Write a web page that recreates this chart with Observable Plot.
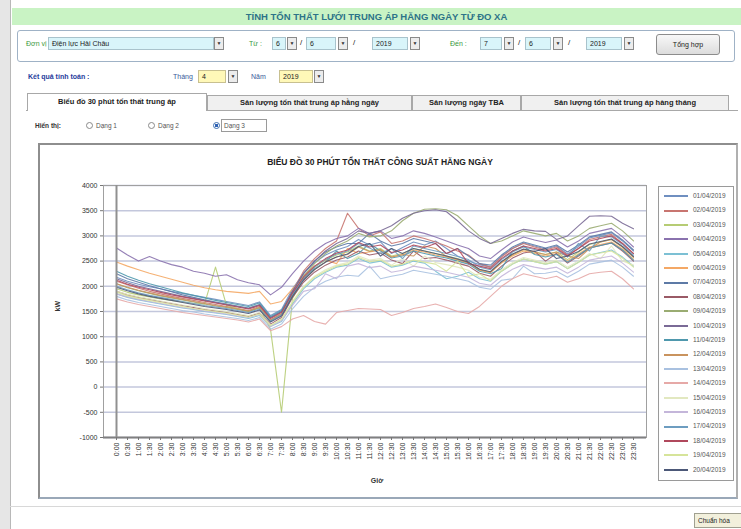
<!DOCTYPE html>
<html><head><meta charset="utf-8">
<script src="https://cdn.jsdelivr.net/npm/d3@7"></script>
<script src="https://cdn.jsdelivr.net/npm/@observablehq/plot@0.6"></script>
<style>
html,body{margin:0;padding:0;}
body{width:741px;height:529px;position:relative;overflow:hidden;background:#fff;font-family:"Liberation Sans",Arial,sans-serif;color:#222;}
.a{position:absolute;white-space:nowrap;}
.g{font-size:7px;color:#3c9a3c;}
.fld{position:absolute;background:#d9f5fa;border:1px solid #a9c3cc;height:13px;font-size:7px;line-height:11px;padding-left:3px;box-sizing:border-box;}
.yel{background:#fff8b8;border-color:#c8c090;}
.arr{position:absolute;background:#ececec;border:1px solid #8a8a8a;width:10px;height:13px;box-sizing:border-box;font-size:5px;line-height:11px;text-align:center;color:#333;}
.tab{position:absolute;top:95px;height:15px;box-sizing:border-box;border:1px solid #a8a8a8;border-bottom:none;background:#f0f0f0;font-size:7.5px;font-weight:bold;line-height:14px;text-align:center;color:#222;}
.rad{position:absolute;top:122px;width:7px;height:7px;border:1px solid #8a8a8a;border-radius:50%;box-sizing:border-box;background:#fff;}
.leg{position:absolute;left:658px;top:186px;width:76px;height:295px;border:1px solid #9a9a9a;box-sizing:border-box;background:#fff;}
.li{position:absolute;left:5px;height:10px;font-size:6.5px;color:#555;}
.li span{display:inline-block;width:24px;height:2px;vertical-align:middle;margin-right:5px;}
</style></head>
<body>
<div class="a" style="left:0;top:0;width:10px;height:529px;background:#e6e6e6;border-right:1px solid #b8b8b8;"></div>
<div class="a" style="left:12px;top:8px;width:729px;height:17px;background:#c9f3c4;text-align:center;font-size:9.5px;font-weight:bold;line-height:17px;color:#2d7488;">TÍNH TỔN THẤT LƯỚI TRUNG ÁP HẰNG NGÀY TỪ ĐO XA</div>
<div class="a" style="left:17px;top:30px;width:718px;height:32px;border:1px solid #9fb2c6;border-radius:3px;box-sizing:border-box;"></div>
<div class="a g" style="left:26px;top:40px;">Đơn vị :</div>
<div class="fld" style="left:48px;top:37px;width:166px;">Điện lực Hải Châu</div><div class="arr" style="left:214px;top:37px;">▼</div>
<div class="a g" style="left:249px;top:40px;">Từ :</div>
<div class="fld" style="left:272px;top:37px;width:14px;">6</div><div class="arr" style="left:287px;top:37px;">▼</div><div class="a" style="left:300px;top:38px;font-size:8px;">/</div>
<div class="fld" style="left:306px;top:37px;width:30px;">6</div><div class="arr" style="left:338px;top:37px;">▼</div><div class="a" style="left:353px;top:38px;font-size:8px;">/</div>
<div class="fld" style="left:372px;top:37px;width:36px;">2019</div><div class="arr" style="left:410px;top:37px;">▼</div>
<div class="a g" style="left:450px;top:40px;">Đến :</div>
<div class="fld" style="left:480px;top:37px;width:22px;">7</div><div class="arr" style="left:504px;top:37px;">▼</div><div class="a" style="left:518px;top:38px;font-size:8px;">/</div>
<div class="fld" style="left:525px;top:37px;width:26px;">6</div><div class="arr" style="left:553px;top:37px;">▼</div><div class="a" style="left:568px;top:38px;font-size:8px;">/</div>
<div class="fld" style="left:586px;top:37px;width:36px;">2019</div><div class="arr" style="left:624px;top:37px;">▼</div>
<div class="a" style="left:656px;top:34px;width:64px;height:21px;border:1px solid #8c8c8c;border-radius:3px;box-sizing:border-box;background:linear-gradient(#f8f8f8,#dcdcdc);font-size:7px;text-align:center;line-height:19px;">Tổng hợp</div>
<div class="a" style="left:28px;top:73px;font-size:7px;font-weight:bold;color:#1f3c9c;">Kết quả tính toán :</div>
<div class="a" style="left:173px;top:73px;font-size:7px;color:#3a5a9a;">Tháng</div>
<div class="fld yel" style="left:198px;top:70px;width:28px;">4</div><div class="arr" style="left:228px;top:70px;">▼</div>
<div class="a" style="left:251px;top:73px;font-size:7px;color:#3a5a9a;">Năm</div>
<div class="fld yel" style="left:279px;top:70px;width:34px;">2019</div><div class="arr" style="left:314px;top:70px;">▼</div>
<div class="a" style="left:26px;top:110px;width:712px;height:1px;background:#a8a8a8;"></div>
<div class="tab" style="left:27px;top:93px;height:18px;width:180px;background:#fff;line-height:16px;">Biểu đồ 30 phút tổn thất trung áp</div>
<div class="tab" style="left:207px;width:205px;">Sản lượng tổn thất trung áp hằng ngày</div>
<div class="tab" style="left:412px;width:109px;">Sản lượng ngày TBA</div>
<div class="tab" style="left:521px;width:208px;">Sản lượng tổn thất trung áp hàng tháng</div>
<div class="a" style="left:35px;top:122px;font-size:6.5px;font-weight:bold;color:#333;">Hiển thị:</div>
<div class="rad" style="left:86px;"></div><div class="a" style="left:96px;top:122px;font-size:6.5px;color:#555;">Dạng 1</div>
<div class="rad" style="left:148px;"></div><div class="a" style="left:158px;top:122px;font-size:6.5px;color:#555;">Dạng 2</div>
<div class="rad" style="left:213px;border-color:#3d6fb0;background:radial-gradient(#2f62b5 45%,#fff 50%);"></div>
<div class="a" style="left:221px;top:119px;width:46px;height:13px;border:1px solid #9a9a9a;box-sizing:border-box;"></div>
<div class="a" style="left:224px;top:122px;font-size:6.5px;color:#555;">Dạng 3</div>
<div class="a" style="left:38px;top:143px;width:700px;height:356px;border:2px solid #8e8e8e;border-right-color:#b0b0b0;border-bottom-color:#9aa8b8;box-sizing:border-box;"></div>
<div class="a" style="left:40px;top:157px;width:680px;text-align:center;font-size:8.5px;font-weight:bold;color:#222;">BIỂU ĐỒ 30 PHÚT TỔN THẤT CÔNG SUẤT HẰNG NGÀY</div>
<div id="chart" class="a" style="left:40px;top:170px;"></div>
<div class="leg" id="legend"></div>
<div class="a" style="left:10px;top:506px;width:731px;height:1px;background:#d8d8d8;"></div>
<div class="a" style="left:694px;top:513px;width:50px;height:15px;border:1px solid #a0a090;background:#f2f0dc;font-size:6.5px;line-height:13px;padding-left:3px;box-sizing:border-box;">Chuẩn hóa</div>
<script>
const times = ["0:00","0:30","1:00","1:30","2:00","2:30","3:00","3:30","4:00","4:30","5:00","5:30",
"6:00","6:30","7:00","7:30","8:00","8:30","9:00","9:30","10:00","10:30","11:00","11:30",
"12:00","12:30","13:00","13:30","14:00","14:30","15:00","15:30","16:00","16:30","17:00","17:30",
"18:00","18:30","19:00","19:30","20:00","20:30","21:00","21:30","22:00","22:30","23:00","23:30"];
const days = ["01/04/2019","02/04/2019","03/04/2019","04/04/2019","05/04/2019","06/04/2019","07/04/2019",
"08/04/2019","09/04/2019","10/04/2019","11/04/2019","12/04/2019","13/04/2019","14/04/2019","15/04/2019",
"16/04/2019","17/04/2019","18/04/2019","19/04/2019","20/04/2019"];
const yTicks = [-1000,-500,0,500,1000,1500,2000,2500,3000,3500,4000];
const colors = ["#6f8fc0","#c87570","#b6cc74","#8a72ae","#7cc0d4","#f4a865","#5d7aa6","#9a5a66","#9aac72","#7a6a96",
"#4f98ad","#c9935e","#a9c1e0","#e6a9a7","#e2e8c0","#c4b6da","#6d9dc0","#b0485c","#d6e49a","#4c5878"];
const s01=[2180,2100,2040,1990,1950,1900,1860,1820,1780,1740,1700,1660,
1620,1690,1420,1540,1950,2260,2470,2620,2720,2790,2930,2820,
2880,2650,2770,2880,2820,2900,2750,2600,2500,2430,2380,2600,
2750,2860,2800,2740,2800,2640,2790,2960,3010,3060,2900,2700];
const s02=[2100,2030,1960,1900,1850,1800,1760,1720,1680,1640,1600,1560,
1520,1600,1330,1450,1900,2300,2550,2750,2900,3450,3150,3000,
3080,2850,2900,3000,2950,2880,2800,2700,2620,2450,2380,2580,
2750,2850,2780,2720,2780,2620,2750,2930,2980,3030,2850,2650];
const s03=[1950,1880,1830,1790,1750,1720,1690,1660,1650,2380,1620,1560,
1500,1580,1150,-500,1760,2150,2380,2520,2620,2680,2800,2700,
2750,2600,2650,2750,2700,2650,2600,2550,2480,2330,2280,2480,
2620,2730,2680,2630,2680,2530,2680,2830,2880,2930,2780,2580];
const s04=[2760,2620,2500,2590,2500,2430,2380,2300,2260,2200,2230,2130,
2070,2030,1830,1980,2250,2500,2700,2850,2950,3000,3150,3050,
3100,2950,3000,3100,3050,2980,2900,2820,2750,2600,2550,2720,
2880,2980,2920,2870,2920,2780,2900,3050,3100,3150,2980,2780];
const s05=[1850,1780,1730,1690,1650,1610,1570,1540,1500,1470,1440,1400,
1360,1420,1200,1300,1650,1950,2150,2280,2380,2420,2550,2460,
2500,2380,2420,2500,2460,2300,2150,2200,2280,2150,2100,2300,
2440,2540,2490,2440,2490,2350,2480,2620,2670,2720,2580,2400];
const s06=[2480,2400,2330,2260,2200,2140,2080,2020,1970,1930,1900,1880,
1860,1900,1650,1700,1950,2200,2400,2520,2450,2750,2650,2680,
2720,2580,2620,2720,2680,2620,2580,2520,2460,2320,2270,2460,
2600,2700,2650,2600,2650,2500,2640,2780,2830,2880,2740,2540];
const s07=[2250,2150,2080,2010,1950,1890,1830,1780,1730,1690,1650,1610,
1570,1640,1380,1500,1900,2250,2500,2680,2780,2850,2850,3050,
2900,2800,2850,2950,2900,2850,2650,2750,2600,2450,2420,2620,
2780,2880,2820,2760,2820,2680,2820,2980,3030,3080,2920,2720];
const s08=[1900,1830,1780,1740,1700,1660,1620,1580,1540,1510,1480,1440,
1400,1470,1250,1380,1780,2080,2280,2420,2520,2580,2700,2620,
2660,2520,2450,2700,2550,2570,2520,2460,2400,2260,2200,2400,
2560,2660,2700,2500,2650,2460,2600,2760,2810,2860,2700,2500];
const s09=[2050,1970,1910,1860,1810,1770,1730,1690,1650,1610,1580,1540,
1500,1570,1320,1440,1850,2200,2450,2650,2800,2900,3050,2980,
3000,3100,3300,3450,3530,3540,3520,3400,3200,3000,2850,2900,
3000,3100,3050,3000,3050,2900,3000,3150,3200,3250,3100,2900];
const s10=[2150,2070,2000,1950,1900,1850,1800,1760,1720,1680,1640,1600,
1560,1630,1380,1500,1900,2250,2500,2700,2850,2950,3100,3050,
3100,3200,3350,3450,3500,3520,3480,3300,3100,2950,2850,2950,
3050,3130,3100,3090,2930,3000,3200,3390,3400,3390,3250,3140];
const s11=[2300,2200,2120,2050,1990,1930,1870,1820,1770,1720,1680,1640,
1600,1670,1400,1520,1850,2150,2350,2480,2700,2550,2650,2850,
2700,2560,2600,2700,2650,2600,2560,2500,2440,2300,2250,2350,
2700,2800,2630,2580,2630,2480,2620,2760,2810,2860,2720,2520];
const s12=[2050,1980,1920,1870,1820,1780,1740,1700,1660,1620,1590,1550,
1510,1580,1330,1450,1820,2130,2330,2480,2580,2630,2780,2690,
2730,2580,2630,2600,2800,2750,2590,2530,2470,2330,2280,2480,
2630,2730,2680,2630,2680,2600,2550,2750,2880,2930,2780,2580];
const s13=[1800,1730,1680,1640,1600,1560,1520,1490,1450,1420,1390,1360,
1320,1380,1150,1250,1550,1800,1980,2100,2180,2220,2200,2400,
2150,2200,2240,2320,2280,2240,2200,2150,2100,1980,1940,2120,
2150,2400,2250,2260,2300,2180,2300,2440,2480,2520,2380,2200];
const s14=[1750,1690,1640,1600,1560,1520,1480,1450,1420,1390,1360,1330,
1290,1350,1120,1200,1350,1420,1300,1250,1480,1520,1560,1550,
1540,1420,1480,1560,1600,1650,1580,1500,1460,1600,1800,2000,
2150,2250,2200,2150,2200,2080,2150,2250,2280,2300,2150,1950];
const s15=[1900,1840,1790,1750,1710,1670,1630,1600,1560,1530,1500,1460,
1420,1480,1230,1350,1700,2000,2200,2330,2420,2470,2600,2520,
2550,2420,2550,2400,2600,2470,2430,2380,2320,2180,2140,2330,
2470,2570,2520,2470,2520,2380,2500,2650,2550,2800,2500,2420];
const s16=[1850,1790,1740,1700,1660,1620,1580,1550,1510,1480,1450,1410,
1380,1440,1200,1320,1620,1900,1950,2250,2150,2400,2450,2370,
2400,2280,2320,2400,2360,2320,2280,2230,2180,2060,2020,2200,
2340,2430,2380,2340,2380,2260,2380,2520,2560,2600,2460,2280];
const s17=[2000,1930,1870,1820,1780,1740,1700,1660,1620,1590,1560,1520,
1480,1550,1310,1430,1820,2150,2380,2530,2640,2700,2850,2760,
2650,2750,2550,2800,2750,2700,2650,2590,2530,2380,2330,2530,
2680,2780,2730,2680,2730,2580,2850,2700,3000,2980,2830,2620];
const s18=[2120,2040,1980,1930,1880,1830,1790,1750,1710,1670,1630,1590,
1550,1620,1360,1480,1870,2180,2400,2550,2660,2720,2870,2780,
2820,2670,2720,2820,2770,2850,2650,2750,2450,2400,2350,2550,
2700,2800,2750,2700,2750,2600,2750,2900,2950,3000,2850,2650];
const s19=[1880,1810,1760,1720,1680,1640,1600,1560,1530,1500,1470,1430,
1390,1450,1220,1340,1680,1980,2180,2300,2400,2440,2570,2490,
2520,2400,2440,2520,2480,2440,2300,2500,2200,2250,2110,2300,
2440,2540,2490,2440,2490,2350,2470,2620,2660,2700,2560,2380];
const s20=[1980,1910,1850,1800,1760,1720,1680,1640,1600,1570,1540,1500,
1460,1530,1290,1410,1800,2120,2330,2480,2580,2640,2790,2850,
2600,2750,2650,2750,2700,2650,2600,2540,2480,2340,2290,2490,
2640,2740,2690,2750,2550,2600,2690,2840,2890,2940,2790,2590];
const series=[s01,s02,s03,s04,s05,s06,s07,s08,s09,s10,s11,s12,s13,s14,s15,s16,s17,s18,s19,s20];
const data = days.flatMap((d,k)=>series[k].map((v,i)=>({day:d,time:times[i],value:v})));
const chart = Plot.plot({
  width: 612, height: 325,
  marginLeft: 63, marginRight: 6, marginTop: 15, marginBottom: 58,
  style: {fontFamily: "'Liberation Sans', Arial, sans-serif", fontSize: "7px", background: "transparent", color: "#333"},
  x: {type: "point", domain: times, padding: 0, label: null},
  y: {domain: [-1000, 4000], label: null},
  color: {domain: days, range: colors},
  marks: [
    Plot.gridY(yTicks, {stroke: "#c3c7dc", strokeOpacity: 1, strokeWidth: 1.5}),
    Plot.frame({stroke: "#a0a0a0", strokeWidth: 1}),
    Plot.lineY(data, {x: "time", y: "value", stroke: "day", strokeWidth: 1.1, strokeOpacity: 0.9}),
    Plot.ruleY([-1000], {stroke: "#808080", strokeWidth: 2}),
    Plot.ruleX([times[0]], {stroke: "#909090", strokeWidth: 2}),
    Plot.axisY({ticks: yTicks, tickFormat: d => String(d), tickSize: 3, tickPadding: 3, stroke: "#777", label: null}),
    Plot.axisX({tickRotate: -90, tickSize: 3, tickPadding: 2, stroke: "#777", label: null}),
    Plot.text(["kW"], {frameAnchor: "left", dx: -46, rotate: -90, fontWeight: "bold", fontSize: 7, fill: "#333"}),
    Plot.text(["Giờ"], {frameAnchor: "bottom", dy: 45, dx: 2, fontWeight: "bold", fontSize: 7, fill: "#333"})
  ]
});
document.getElementById("chart").appendChild(chart);
const leg = document.getElementById("legend");
days.forEach((d,k)=>{
  const el = document.createElement("div");
  el.className = "li";
  el.style.top = (5 + k*14.4) + "px";
  el.innerHTML = `<span style="background:${colors[k]}"></span>${d}`;
  leg.appendChild(el);
});
</script>
</body></html>
